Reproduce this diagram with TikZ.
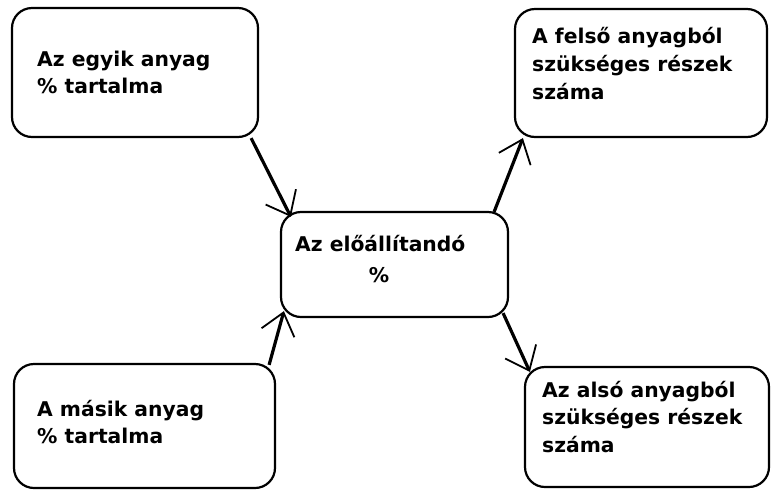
\documentclass[tikz,border=0pt]{standalone}
\usepackage{fontspec}
\setmainfont{DejaVu Sans}
\usetikzlibrary{arrows.meta,calc}
\begin{document}
\begin{tikzpicture}[x=1pt,y=-1pt,
  box/.style={draw=black,line width=2.2pt,rounded corners=20pt,rectangle,inner sep=0pt},
  txt/.style={anchor=base west,inner sep=0pt,font=\fontsize{20.3}{24}\selectfont\bfseries},
  conn/.style={line width=3.2pt,-{Straight Barb[length=21pt,width=34pt,line width=1.8pt]}}]
\useasboundingbox[fill=white] (0,0) rectangle (771,491);
\node[box,minimum width=246pt,minimum height=129pt] (b1) at (135,72.5) {};
\node[box,minimum width=252pt,minimum height=128pt] (b2) at (641,73) {};
\node[box,minimum width=227pt,minimum height=105pt] (c) at (394.5,264.5) {};
\node[box,minimum width=261pt,minimum height=124pt] (b3) at (144.5,426) {};
\node[box,minimum width=244pt,minimum height=120pt] (b4) at (647,427) {};
% texts
\node[txt] (t1a) at (37,66) {Az egyik anyag};
\node[txt] (t1b) at (37,93) {\% tartalma};
\node[txt] (t2a) at (532,43) {A felső anyagból};
\node[txt] (t2b) at (532,71) {szükséges részek};
\node[txt] (t2c) at (532,99) {száma};
\node[txt] (tca) at (295,251) {Az előállítandó};
\node[txt,anchor=base] (tcb) at (379,282) {\%};
\node[txt] (t3a) at (37,416) {A másik anyag};
\node[txt] (t3b) at (37,443) {\% tartalma};
\node[txt] (t4a) at (542,397) {Az alsó anyagból};
\node[txt] (t4b) at (542,424) {szükséges részek};
\node[txt] (t4c) at (542,452) {száma};
% connectors
\draw[conn] ($(b1.south east)+(-8,0)$) -- ($(c.north west)+(11,6)$);
\draw[conn] ($(b3.north east)+(-7,2)$) -- ($(c.south west)+(4,-7)$);
\draw[conn] ($(c.north east)+(-15,1)$) -- ($(b2.south west)+(9,0)$);
\draw[conn] ($(c.south east)+(-6,-5)$) -- ($(b4.north west)+(6,6)$);
\end{tikzpicture}
\end{document}
